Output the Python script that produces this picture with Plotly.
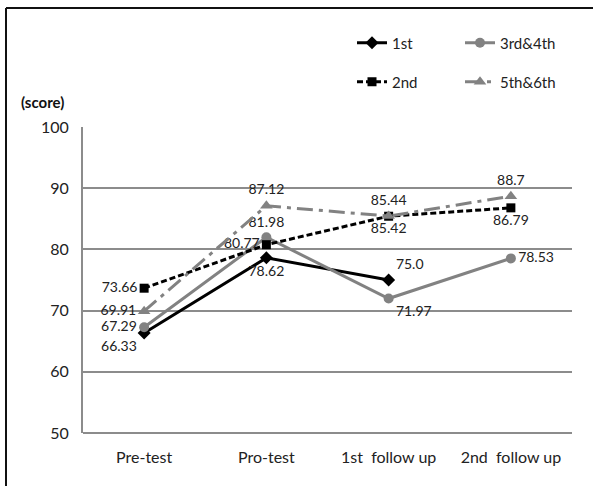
import plotly.graph_objects as go

categories = ["Pre-test", "Pro-test", "1st  follow up", "2nd  follow up"]
s1 = [66.33, 78.62, 75.0, None]
s2 = [73.66, 80.77, 85.42, 86.79]
s34 = [67.29, 81.98, 71.97, 78.53]
s56 = [69.91, 87.12, 85.44, 88.7]
y_ticks = [50, 60, 70, 80, 90, 100]

FONT = "Lato, Open Sans, sans-serif"
GRAY = "#828282"
GRID = "#8c8c8c"

W, H = 593, 486
L, R, T, B = 83, 21, 127, 53
PW, PH = W - L - R, H - T - B

def px_x(p):
    return (p - L) / PW

def px_y(p):
    return (H - B - p) / PH

def labels(vals):
    return [("" if v is None else str(v)) for v in vals]

TF = dict(family=FONT, size=14, color="#222")

fig = go.Figure()

fig.add_trace(go.Scatter(
    x=categories, y=s1, name="1st", mode="lines+markers+text",
    text=labels(s1), textposition=["bottom left", "bottom center", "top right", "top right"],
    line=dict(color="black", width=3),
    marker=dict(symbol="diamond", size=10, color="black"),
    textfont=TF, legend="legend",
))
fig.add_trace(go.Scatter(
    x=categories, y=s34, name="3rd&4th", mode="lines+markers+text",
    text=labels(s34), textposition=["middle left", "top center", "bottom right", "middle right"],
    line=dict(color=GRAY, width=3),
    marker=dict(symbol="circle", size=10, color=GRAY),
    textfont=TF, legend="legend2",
))
fig.add_trace(go.Scatter(
    x=categories, y=s2, name="2nd", mode="lines+markers+text",
    text=labels(s2), textposition=["middle left", "middle left", "bottom center", "bottom center"],
    line=dict(color="black", width=3, dash="6px,3px"),
    marker=dict(symbol="square", size=9, color="black"),
    textfont=TF, legend="legend3",
))
fig.add_trace(go.Scatter(
    x=categories, y=s56, name="5th&6th", mode="lines+markers+text",
    text=labels(s56), textposition=["middle left", "top center", "top center", "top center"],
    line=dict(color=GRAY, width=3, dash="16px,6px,4px,6px"),
    marker=dict(symbol="triangle-up", size=11, color=GRAY),
    textfont=TF, legend="legend4",
))

def leg(xp, yp):
    return dict(x=px_x(xp), y=px_y(yp), xanchor="left", yanchor="middle",
                orientation="h", bgcolor="rgba(0,0,0,0)",
                font=dict(family=FONT, size=15, color="#222"))

fig.update_layout(
    width=W, height=H,
    margin=dict(l=L, r=R, t=T, b=B),
    paper_bgcolor="white", plot_bgcolor="white",
    font=dict(family=FONT, size=15, color="#222"),
    showlegend=True,
    legend=leg(352, 43),
    legend2=leg(460, 43),
    legend3=leg(352, 82),
    legend4=leg(460, 82),
    xaxis=dict(
        type="category", range=[-0.5, 3.5], showgrid=False, zeroline=False,
        showline=False, ticks="", ticklabelstandoff=13,
        tickfont=dict(family=FONT, size=16, color="#222"),
    ),
    yaxis=dict(
        range=[50, 100], tickvals=y_ticks, showgrid=True, gridcolor=GRID, gridwidth=2,
        zeroline=False, showline=True, linecolor=GRID, linewidth=2,
        ticks="", ticklabelstandoff=9,
        tickfont=dict(family=FONT, size=16, color="#222"),
    ),
    annotations=[dict(
        text="<b>(score)</b>", xref="paper", yref="paper",
        x=px_x(19), y=px_y(102), xanchor="left", yanchor="middle",
        showarrow=False, font=dict(family=FONT, size=15, color="#111"),
    )],
    shapes=[
        dict(type="line", xref="paper", yref="paper", x0=px_x(6), x1=px_x(593),
             y0=px_y(8), y1=px_y(8), line=dict(color="#111", width=2)),
        dict(type="line", xref="paper", yref="paper", x0=px_x(6), x1=px_x(6),
             y0=px_y(8), y1=px_y(486), line=dict(color="#111", width=2)),
        dict(type="line", xref="paper", yref="paper", x0=0, x1=1,
             y0=0, y1=0, line=dict(color=GRID, width=2), layer="below"),
    ],
)

fig.write_html("out.html")
